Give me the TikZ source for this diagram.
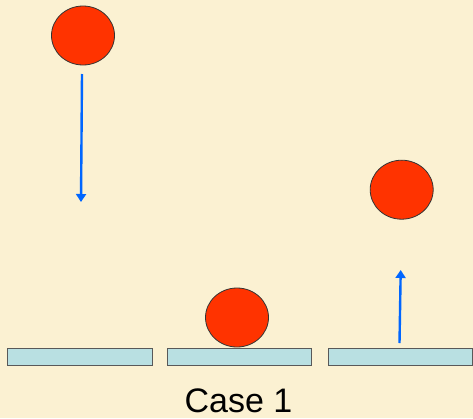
\documentclass[tikz,border=0pt]{standalone}
\usepackage{fontspec}
\setmainfont{Liberation Sans}
\usetikzlibrary{arrows.meta,shapes.geometric}
\definecolor{bg}{RGB}{251,241,210}
\definecolor{ballred}{RGB}{255,51,0}
\definecolor{plat}{RGB}{185,224,226}
\definecolor{arrowblue}{RGB}{0,102,255}
\tikzset{
  ball/.style={ellipse, draw=black!80, line width=0.8pt, fill=ballred, minimum width=63pt, minimum height=59pt, inner sep=0pt},
  platform/.style={draw=black!65, line width=0.9pt, fill=plat},
  motion/.style={draw=arrowblue, line width=2.4pt, -{Triangle[length=8pt,width=10pt]}}
}
\begin{document}
\begin{tikzpicture}[x=1pt,y=-1pt]
\fill[bg] (0,0) rectangle (473,418);
\useasboundingbox (0,0) rectangle (473,418);
\draw[platform] (7.5,348) rectangle (152,365);
\draw[platform] (167.5,348) rectangle (311.5,365);
\draw[platform] (328.5,348) rectangle (472.5,365);
\node[ball] (b1) at (83,35.5) {};
\node[ball] (b2) at (237,317.5) {};
\node[ball] (b3) at (401.7,189.7) {};
\coordinate (a1s) at (82,74);
\coordinate (a1e) at (81,202);
\coordinate (a3s) at (399.5,343);
\coordinate (a3e) at (400.7,270);
\draw[motion] (a1s) -- (a1e);
\draw[motion] (a3s) -- (a3e);
\node[font=\fontsize{34}{40}\selectfont, anchor=base, inner sep=0pt] (cap) at (238.5,412) {Case 1};
\end{tikzpicture}
\end{document}
